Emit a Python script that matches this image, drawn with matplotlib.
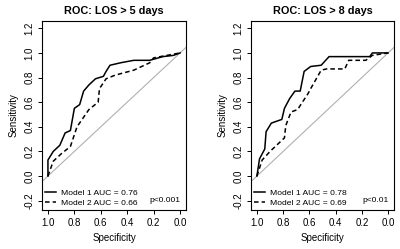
import matplotlib
matplotlib.use("Agg")
import matplotlib.pyplot as plt

plt.rcParams['font.family'] = ['Liberation Sans', 'DejaVu Sans']

titles = ['ROC: LOS > 5 days', 'ROC: LOS > 8 days']
auc_labels = [['Model 1 AUC = 0.76', 'Model 2 AUC = 0.66'],
              ['Model 1 AUC = 0.78', 'Model 2 AUC = 0.69']]
p_labels = ['p<0.001', 'p<0.01']

# LOS > 5 days
m1_spec_5 = [1.0, 1.0, 0.96, 0.91, 0.87, 0.83, 0.80, 0.76, 0.73, 0.69, 0.64, 0.58, 0.56, 0.53, 0.45, 0.35, 0.23, 0.13, 0.05, 0.0]
m1_sens_5 = [0.0, 0.13, 0.20, 0.25, 0.35, 0.37, 0.55, 0.58, 0.69, 0.74, 0.79, 0.81, 0.85, 0.90, 0.92, 0.94, 0.94, 0.97, 0.98, 1.0]
m2_spec_5 = [1.0, 0.96, 0.90, 0.83, 0.78, 0.69, 0.62, 0.61, 0.56, 0.49, 0.35, 0.23, 0.20, 0.0]
m2_sens_5 = [0.0, 0.12, 0.18, 0.24, 0.40, 0.54, 0.60, 0.71, 0.79, 0.82, 0.86, 0.92, 0.96, 1.0]

# LOS > 8 days
m1_spec_8 = [1.0, 0.98, 0.94, 0.93, 0.89, 0.81, 0.79, 0.75, 0.71, 0.67, 0.64, 0.59, 0.51, 0.45, 0.14, 0.12, 0.0]
m1_sens_8 = [0.0, 0.14, 0.22, 0.36, 0.43, 0.46, 0.55, 0.63, 0.69, 0.69, 0.85, 0.89, 0.90, 0.97, 0.97, 1.0, 1.0]
m2_spec_8 = [1.0, 0.96, 0.90, 0.85, 0.79, 0.78, 0.74, 0.69, 0.61, 0.59, 0.51, 0.47, 0.33, 0.30, 0.17, 0.12, 0.0]
m2_sens_8 = [0.0, 0.13, 0.20, 0.25, 0.31, 0.41, 0.52, 0.54, 0.67, 0.71, 0.86, 0.87, 0.87, 0.94, 0.94, 0.98, 1.0]

curves = [((m1_spec_5, m1_sens_5), (m2_spec_5, m2_sens_5)),
          ((m1_spec_8, m1_sens_8), (m2_spec_8, m2_sens_8))]

fig = plt.figure(figsize=(4.0, 2.49), dpi=100)
axes = [fig.add_axes([0.105, 0.157, 0.36, 0.759]),
        fig.add_axes([0.6275, 0.157, 0.3575, 0.759])]

for i, ax in enumerate(axes):
    (s1, t1), (s2, t2) = curves[i]
    ax.plot([1.2, -0.2], [-0.2, 1.2], color='#b0b0b0', lw=0.8)
    ax.plot(s1, t1, color='black', lw=1.1, ls='-', label=auc_labels[i][0])
    ax.plot(s2, t2, color='black', lw=1.1, ls=(0, (3, 2)), label=auc_labels[i][1])
    ax.set_xlim(1.045, -0.045)
    ax.set_ylim(-0.275, 1.26)
    ax.set_xticks([1.0, 0.8, 0.6, 0.4, 0.2, 0.0])
    ax.set_yticks([-0.2, 0.0, 0.2, 0.4, 0.6, 0.8, 1.0, 1.2])
    ax.set_xticklabels(['1.0', '0.8', '0.6', '0.4', '0.2', '0.0'])
    ax.set_yticklabels(['-0.2', '0.0', '0.2', '0.4', '0.6', '0.8', '1.0', '1.2'], rotation=90, va='center')
    ax.tick_params(labelsize=7, length=3, width=0.7, pad=2.5)
    for sp in ax.spines.values():
        sp.set_linewidth(0.8)
    ax.set_title(titles[i], fontsize=7.8, fontweight='bold', pad=5)
    ax.set_xlabel('Specificity', fontsize=7, labelpad=4)
    ax.set_ylabel('Sensitivity', fontsize=7, labelpad=4)
    ax.legend(loc='lower left', frameon=False, fontsize=6.1, handlelength=1.4,
              handletextpad=0.6, borderaxespad=0.0, borderpad=0.3, labelspacing=0.3)
    ax.text(0.96, 0.05, p_labels[i], transform=ax.transAxes, ha='right', va='center', fontsize=6.1)

fig.savefig('out.png', dpi=100)
